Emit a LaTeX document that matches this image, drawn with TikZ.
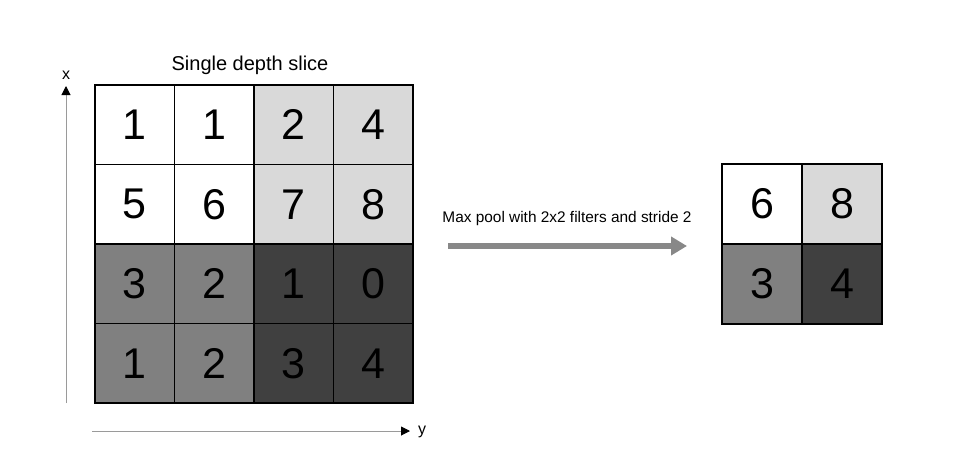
\documentclass[tikz,border=0pt]{standalone}
\usepackage{fontspec}
\setmainfont{Liberation Sans}
\usetikzlibrary{arrows.meta}
\definecolor{cwhite}{HTML}{FFFFFF}
\definecolor{clight}{HTML}{D9D9D9}
\definecolor{cmid}{HTML}{808080}
\definecolor{cdark}{HTML}{404040}
\definecolor{axisgray}{HTML}{9A9A9A}
\definecolor{arrowgray}{HTML}{888888}
\tikzset{
  cell/.style={minimum size=79.5pt, inner sep=0pt, font=\fontsize{43}{43}\selectfont},
  scell/.style={cell, minimum size=80pt},
  cellborder/.style={draw=black, line width=1.5pt},
  axis/.style={draw=axisgray, line width=1pt, -{Triangle[length=9pt,width=9pt,fill=black,color=black]}},
  lbl/.style={inner sep=0pt, font=\fontsize{16}{16}\selectfont},
}
\begin{document}
\begin{tikzpicture}[x=1pt,y=-1pt]
\useasboundingbox (0,0) rectangle (954,469);
% left grid
\foreach \r/\row in {0/{1/cwhite,1/cwhite,2/clight,4/clight},1/{5/cwhite,6/cwhite,7/clight,8/clight},2/{3/cmid,2/cmid,1/cdark,0/cdark},3/{1/cmid,2/cmid,3/cdark,4/cdark}}{
  \foreach \v/\c [count=\k from 0] in \row {
    \node[cell, fill=\c] (g\r\k) at ({95+39.75+79.5*\k},{85+39.75+79.5*\r}) {\v};
  }
}
\foreach \r in {0,...,3}{
  \foreach \k in {0,...,3}{
    \draw[cellborder] (g\r\k.north west) rectangle (g\r\k.south east);
  }
}
% right grid
\node[scell, fill=cwhite] (p00) at (762,204) {6};
\node[scell, fill=clight] (p01) at (842,204) {8};
\node[scell, fill=cmid] (p10) at (762,284) {3};
\node[scell, fill=cdark] (p11) at (842,284) {4};
\foreach \n in {p00,p01,p10,p11}{
  \draw[cellborder] (\n.north west) rectangle (\n.south east);
}
% title
\node[inner sep=0pt, font=\fontsize{20}{20}\selectfont] (title) at (250,65) {Single depth slice};
% axes
\coordinate (xa0) at (66,403);
\coordinate (xa1) at (66,86);
\draw[axis] (xa0) -- (xa1);
\node[lbl] (xl) at (66,75) {x};
\coordinate (ya0) at (92,431);
\coordinate (ya1) at (410,431);
\draw[axis] (ya0) -- (ya1);
\node[lbl] (yl) at (422,432) {y};
% pooling arrow
\coordinate (pa0) at (448,246);
\coordinate (pa1) at (687,246);
\node[lbl, font=\fontsize{15.4}{15.4}\selectfont] (plabel) at (567,219) {Max pool with 2x2 filters and stride 2};
\draw[draw=arrowgray, line width=6pt, -{Triangle[length=16pt,width=18pt]}] (pa0) -- (pa1);
\end{tikzpicture}
\end{document}
